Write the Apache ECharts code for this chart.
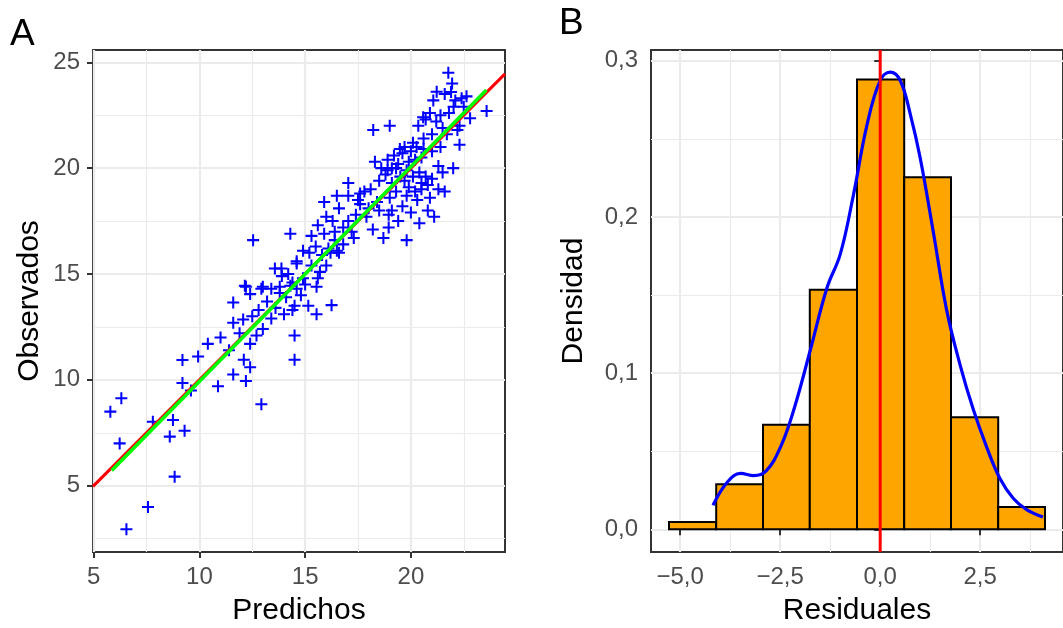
<!DOCTYPE html>
<html><head><meta charset="utf-8">
<script src="https://cdn.jsdelivr.net/npm/echarts@6/dist/echarts.min.js"></script>
<style>html,body{margin:0;padding:0;background:#fff}#c{width:1063px;height:628px}</style>
</head><body><div id="c"></div>
<script>
// ---- Panel A data: predicted vs observed ----
const predichos = [21.77,21.95,21.22,21.6,21.06,22.1,22.63,22.02,23.58,22.8,22.3,22.3,21.4,20.58,20.7,21.2,20.35,21.7,18.22,19.0,19.48,19.7,20.1,20.27,18.9,18.6,19.1,19.3,18.8,19.5,19.7,20.1,20.4,20.7,21.0,21.3,22.0,17.04,16.5,17.04,17.6,18.1,15.9,17.6,18.4,18.95,19.6,20.3,20.9,21.6,21.1,20.8,17.9,18.2,18.95,18.7,19.8,17.04,17.4,16.4,15.9,16.8,16.5,15.3,14.6,15.5,15.7,14.4,14.6,16.2,16.4,14.3,
6.31,5.79,6.23,7.57,6.55,8.83,7.8,8.75,8.6,9.3,9.2,9.94,10.4,9.2,9.6,10.88,11.6,12.2,12.93,11.6,12.15,12.4,13.0,11.6,12.07,12.5,11.9,12.4,12.1,12.4,14.0,14.5,14.5,14.5,13.8,14.3,
15.54,16.25,15.54,15.15,14.4,
12.54,13.57,13.88,14.6,12.2,12.93,13.4,13.8,
19.2,19.6,19.9,20.0,19.4,20.2,18.9,19.8,20.5,19.1,19.9,20.5,18.5,19.3,20.2,19.0,19.8,20.6,21.0,18.3,
20.9,21.4,21.0,21.5,20.6,22.2,21.8,22.5,21.9,22.4,
16.0,16.3,16.8,17.2,16.6,15.6,17.5,17.3,16.1,15.2,17.8,18.0,
13.2,13.6,14.1,12.8,13.4,14.8,14.9,15.0,13.0,12.7,11.4,11.0,14.2,15.3,
19.4,20.0,20.4,21.3,20.8,19.1,21.5,20.5,18.5,
15.6,16.0,15.8,16.6,14.9,13.9];
const observados = [24.51,24.0,23.61,23.5,23.2,23.2,23.39,22.9,22.7,22.36,22.0,21.1,21.0,22.4,22.3,22.2,22.0,21.6,21.8,22.0,20.9,21.0,21.2,21.0,20.4,20.0,20.0,20.0,19.7,19.6,19.4,19.6,19.8,19.6,19.5,20.1,20.0,19.3,18.7,18.7,18.8,19.0,18.4,18.3,18.4,17.8,18.2,18.5,18.6,18.9,17.7,19.2,17.7,17.1,17.2,16.7,16.6,17.5,17.8,17.0,16.9,16.4,16.1,16.8,15.6,16.3,15.1,14.6,14.3,16.0,16.6,16.9,
9.13,8.5,7.0,4.0,2.94,5.43,8.02,8.1,7.32,7.6,10.94,11.1,11.7,9.85,9.5,9.7,10.25,9.95,8.85,13.65,14.45,14.05,14.4,12.7,12.85,13.0,12.2,11.7,10.95,10.6,13.1,13.5,12.1,10.95,14.1,14.45,
14.4,13.53,13.1,13.5,13.3,
16.6,15.26,15.26,15.5,14.4,14.3,14.3,14.4,
20.6,20.7,20.3,20.8,20.2,20.4,19.9,19.9,20.5,19.3,19.1,19.0,19.4,18.9,18.9,18.6,18.7,20.9,20.8,20.3,
22.6,22.5,21.6,21.9,21.4,21.8,22.6,22.9,23.6,23.3,
17.7,17.5,17.2,17.0,18.1,17.3,18.5,16.7,16.2,16.0,18.9,18.1,
13.7,13.4,13.9,13.3,12.9,14.0,14.8,14.5,12.4,12.1,11.4,12.0,15.0,15.4,
17.5,17.9,17.4,19.0,18.0,18.0,19.8,19.3,18.0,
14.8,15.4,15.9,16.0,16.1,14.9];
const ajusteX = [5.855, 23.57];
const ajusteY = [5.72, 23.69];
const ticksA_x = [5, 10, 15, 20];
const ticksA_y = [5, 10, 15, 20, 25];

// ---- Panel B data: residual histogram + density ----
const binInicio = [-5.28,-4.10,-2.93,-1.76,-0.58,0.60,1.77,2.95];
const binFin    = [-4.10,-2.93,-1.76,-0.58,0.60,1.77,2.95,4.12];
const densidadBin = [0.0047,0.0289,0.067,0.1533,0.288,0.2254,0.0718,0.0142];
const densX = [-4.18,-3.82,-3.49,-3.16,-2.85,-2.49,-2.16,-1.75,-1.33,-1.0,-0.67,-0.33,0,0.25,0.5,0.75,1.0,1.33,1.66,2.0,2.33,2.66,2.99,3.33,3.66,4.07];
const densY = [0.0154,0.0303,0.0358,0.0344,0.0374,0.0528,0.0765,0.1145,0.1547,0.176,0.214,0.259,0.2874,0.2927,0.2874,0.266,0.2377,0.19,0.1405,0.105,0.0765,0.0528,0.0327,0.0197,0.0126,0.0078];
const ticksB_x = [-5, -2.5, 0, 2.5];
const ticksB_y = [0, 0.1, 0.2, 0.3];

const FONT = 'Liberation Sans, Arial, sans-serif';
const commaFmt = v => (v < 0 ? '\u2212' : '') + Math.abs(v).toFixed(1).replace('.', ',');

function axisBase(extra) {
  return Object.assign({
    type: 'value',
    axisLine: {show: false},
    splitLine: {show: true, lineStyle: {color: '#EBEBEB', width: 2.2}},
    minorTick: {show: false, splitNumber: 2},
    minorSplitLine: {show: true, lineStyle: {color: '#EBEBEB', width: 1.1}},
    nameLocation: 'middle',
    nameTextStyle: {color: '#000', fontSize: 30, fontFamily: FONT}
  }, extra);
}
function tick(vals) { return {show: true, length: 6, lineStyle: {color: '#333333', width: 2}, customValues: vals}; }
function lab(vals, fmt) { return {color: '#4D4D4D', fontSize: 24, fontFamily: FONT, margin: 13, customValues: vals, formatter: fmt}; }

const plusPath = 'path://M-0.17,-1H0.17V-0.17H1V0.17H0.17V1H-0.17V0.17H-1V-0.17H-0.17Z';

const chart = echarts.init(document.getElementById('c'), null, {renderer: 'canvas'});
chart.setOption({
  animation: false,
  backgroundColor: '#fff',
  grid: [
    {left: 93, top: 50, width: 412, height: 502, show: true, borderColor: '#333333', borderWidth: 2, backgroundColor: 'transparent', containLabel: false, outerBoundsMode: 'none'},
    {left: 651, top: 50, width: 412, height: 502, show: true, borderColor: '#333333', borderWidth: 2, backgroundColor: 'transparent', containLabel: false, outerBoundsMode: 'none'}
  ],
  xAxis: [
    axisBase({gridIndex: 0, min: 4.97, max: 24.45, minInterval: 5, maxInterval: 5, splitNumber: 4,
      name: 'Predichos', nameGap: 44, axisTick: tick(ticksA_x), axisLabel: lab(ticksA_x, v => String(v))}),
    axisBase({gridIndex: 1, min: -5.73, max: 4.57, minInterval: 2.5, maxInterval: 2.5, splitNumber: 4,
      name: 'Residuales', nameGap: 44, axisTick: tick(ticksB_x), axisLabel: lab(ticksB_x, commaFmt)})
  ],
  yAxis: [
    axisBase({gridIndex: 0, min: 1.87, max: 25.58, minInterval: 5, maxInterval: 5, splitNumber: 5,
      name: 'Observados', nameGap: 48, axisTick: tick(ticksA_y), axisLabel: lab(ticksA_y, v => String(v))}),
    axisBase({gridIndex: 1, min: -0.01455, max: 0.3069, minInterval: 0.1, maxInterval: 0.1, splitNumber: 3,
      name: 'Densidad', nameGap: 62, axisTick: tick(ticksB_y), axisLabel: lab(ticksB_y, commaFmt)})
  ],
  graphic: [
    {type: 'text', left: 10, top: 16, style: {text: 'A', fontSize: 37, fontFamily: FONT, fill: '#000'}},
    {type: 'text', left: 559, top: 5, style: {text: 'B', fontSize: 37, fontFamily: FONT, fill: '#000'}}
  ],
  series: [
    {type: 'scatter', xAxisIndex: 0, yAxisIndex: 0, symbol: plusPath, symbolSize: 12,
      itemStyle: {color: '#0000FF', opacity: 1}, z: 2,
      data: predichos.map((x, i) => [x, observados[i]])},
    {type: 'line', xAxisIndex: 0, yAxisIndex: 0, showSymbol: false, clip: true, z: 3,
      lineStyle: {color: '#FF0000', width: 3},
      data: [[4.97, 4.97], [24.45, 24.45]]},
    {type: 'line', xAxisIndex: 0, yAxisIndex: 0, showSymbol: false, clip: true, z: 4,
      lineStyle: {color: '#00FF00', width: 3.5},
      data: ajusteX.map((x, i) => [x, ajusteY[i]])},
    {type: 'custom', xAxisIndex: 1, yAxisIndex: 1, z: 2,
      data: binInicio.map((x, i) => [x, binFin[i], densidadBin[i]]),
      renderItem: function (params, api) {
        const p0 = api.coord([api.value(0), api.value(2)]);
        const p1 = api.coord([api.value(1), 0]);
        return {type: 'rect', shape: {x: p0[0], y: p0[1], width: p1[0] - p0[0], height: p1[1] - p0[1]},
          style: {fill: '#FFA500', stroke: '#000000', lineWidth: 2}};
      }},
    {type: 'line', xAxisIndex: 1, yAxisIndex: 1, showSymbol: false, smooth: 0.4, z: 4,
      lineStyle: {color: '#0000FF', width: 3.2},
      data: densX.map((x, i) => [x, densY[i]])},
    {type: 'line', xAxisIndex: 1, yAxisIndex: 1, showSymbol: false, z: 5, data: [[0, -0.01455], [0, 0.3069]], clip: true,
      lineStyle: {color: '#FF0000', width: 3}}
  ]
});
</script></body></html>
